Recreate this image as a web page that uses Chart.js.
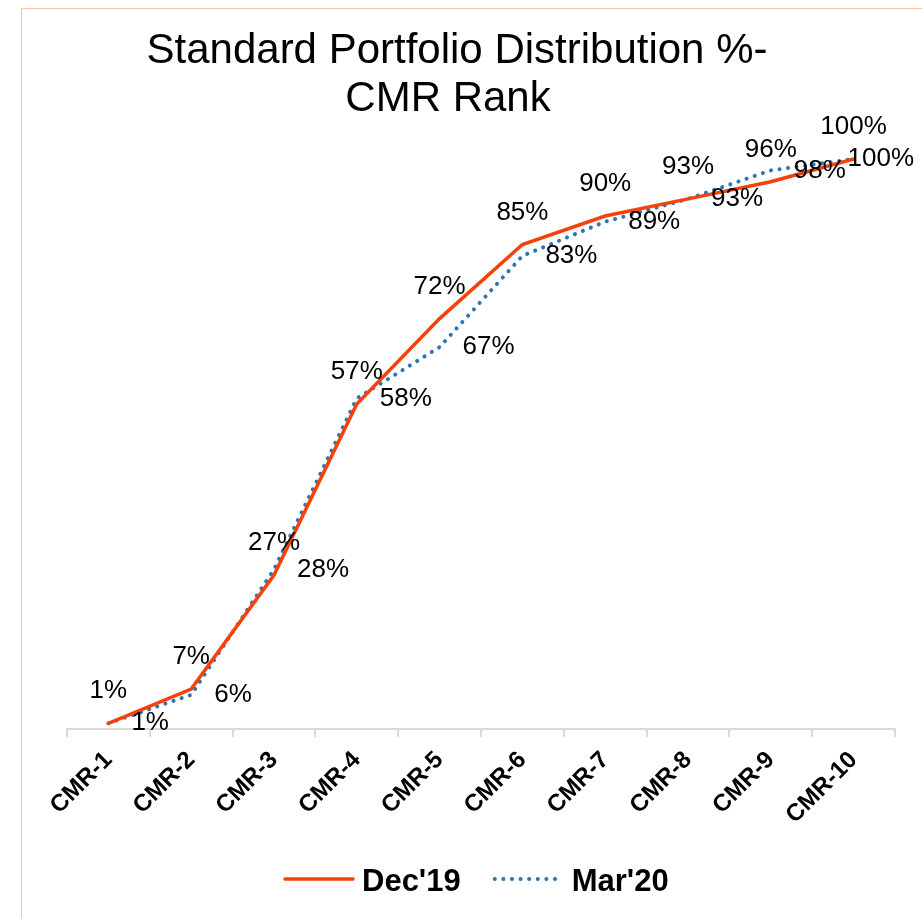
<!DOCTYPE html>
<html>
<head>
<meta charset="utf-8">
<script src="https://cdn.jsdelivr.net/npm/chart.js@4/dist/chart.umd.min.js"></script>
<style>
  html, body { margin: 0; padding: 0; background: #fff; }
  .frame { position: absolute; left: 21px; top: 8px; width: 940px; height: 950px;
           border: 1.5px solid #F7C6A0; box-sizing: border-box; }
  .wrap  { position: absolute; left: 0; top: 0; width: 922px; height: 919px; }
</style>
</head>
<body>
<div class="frame"></div>
<div class="wrap"><canvas id="chart"></canvas></div>
<script>
/* ── Datos ── */
const CATEGORIES = ['CMR-1','CMR-2','CMR-3','CMR-4','CMR-5','CMR-6','CMR-7','CMR-8','CMR-9','CMR-10'];
const DEC19 = [1, 7, 27, 57, 72, 85, 90, 93, 96, 100];
const MAR20 = [1, 6, 28, 58, 67, 83, 89, 93, 98, 100];
const SERIES_NAMES = ["Dec'19", "Mar'20"];
const TITLE_LINES = ['Standard Portfolio Distribution %-', 'CMR Rank'];

const RED  = '#F5410C';
const BLUE = '#2E75B6';
const AXIS = '#D9D9D9';
const FONT = "'Liberation Sans', Arial, sans-serif";

/* ── Título, etiquetas y leyenda ── */
const decorPlugin = {
  id: 'decor',
  afterDatasetsDraw(chart) {
    const ctx = chart.ctx;
    ctx.save();
    ctx.fillStyle = '#000';

    // etiquetas de datos
    ctx.font = '26px ' + FONT;
    ctx.textBaseline = 'middle';
    chart.data.datasets.forEach((ds, i) => {
      const meta = chart.getDatasetMeta(i);
      meta.data.forEach((pt, j) => {
        const txt = ds.data[j] + '%';
        if (i === 0) {
          ctx.textAlign = 'center';
          ctx.fillText(txt, pt.x, pt.y - 32);
        } else {
          const w = ctx.measureText(txt).width;
          const x = Math.min(pt.x + 23, 914 - w);
          ctx.textAlign = 'left';
          ctx.fillText(txt, x, pt.y);
        }
      });
    });

    // título
    ctx.font = '42px ' + FONT;
    ctx.textAlign = 'center';
    ctx.textBaseline = 'alphabetic';
    ctx.fillText(TITLE_LINES[0], 457, 63);
    ctx.fillText(TITLE_LINES[1], 448, 111);

    // leyenda
    ctx.font = 'bold 31px ' + FONT;
    ctx.textAlign = 'left';
    const ly = 879;
    let x = 285;
    chart.data.datasets.forEach((ds, i) => {
      ctx.beginPath();
      ctx.strokeStyle = ds.borderColor;
      ctx.lineWidth = ds.borderWidth;
      ctx.lineCap = ds.borderCapStyle || 'butt';
      ctx.setLineDash(ds.borderDash || []);
      ctx.moveTo(x, ly);
      ctx.lineTo(x + 68, ly);
      ctx.stroke();
      ctx.setLineDash([]);
      x += 77;
      ctx.fillText(ds.label, x, 891);
      x += ctx.measureText(ds.label).width + 34;
    });
    ctx.restore();
  },
};

/* ── Gráfico ── */
new Chart(document.getElementById('chart'), {
  type: 'line',
  data: {
    labels: CATEGORIES,
    datasets: [
      { label: SERIES_NAMES[0], data: DEC19, borderColor: RED, borderWidth: 3.5,
        pointRadius: 0, tension: 0, clip: false, borderCapStyle: 'round' },
      { label: SERIES_NAMES[1], data: MAR20, borderColor: BLUE, borderWidth: 4,
        borderDash: [0.1, 8.5], borderCapStyle: 'round',
        pointRadius: 0, tension: 0, clip: false },
    ],
  },
  options: {
    responsive: true,
    maintainAspectRatio: false,
    animation: false,
    layout: { autoPadding: false, padding: { left: 67, right: 27, top: 159, bottom: 90 } },
    plugins: { legend: { display: false }, title: { display: false }, tooltip: { enabled: false } },
    scales: {
      x: {
        offset: true,
        afterFit: s => { s.height = 100; },
        grid: { offset: true, drawOnChartArea: false, drawTicks: true, tickLength: 8, color: AXIS, lineWidth: 2 },
        border: { display: true, color: AXIS, width: 2 },
        ticks: { color: '#000', font: { family: FONT, size: 24, weight: 'bold' },
                 minRotation: 45, maxRotation: 45, autoSkip: false, padding: 9 },
      },
      y: { display: false, min: 0, max: 100 },
    },
  },
  plugins: [decorPlugin],
});
</script>
</body>
</html>
